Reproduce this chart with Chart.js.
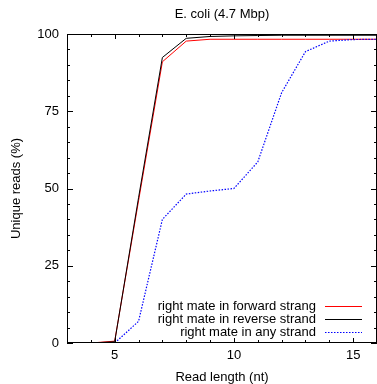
<!DOCTYPE html>
<html>
<head>
<meta charset="utf-8">
<script src="https://cdn.jsdelivr.net/npm/chart.js@4/dist/chart.umd.min.js"></script>
<style>
html,body{margin:0;padding:0;background:#fff;}
#wrap{width:377px;height:384px;}
</style>
</head>
<body>
<div id="wrap"><canvas id="c" width="377" height="384"></canvas></div>
<script>
// ---- data ----
const TITLE = "E. coli (4.7 Mbp)";
const X_TITLE = "Read length (nt)";
const Y_TITLE = "Unique reads (%)";
const readLength = [3, 4, 5, 6, 7, 8, 9, 10, 11, 12, 13, 14, 15, 16];
const forwardStrand = [0, 0, 0.6, 46, 91, 97.7, 98.3, 98.3, 98.3, 98.3, 98.3, 98.3, 98.3, 98.3];
const reverseStrand = [0, 0, 0.4, 47, 92.4, 98.6, 99.2, 99.4, 99.5, 99.6, 99.6, 99.6, 99.6, 99.6];
const anyStrand = [0, 0, 0, 7, 40, 48.2, 49.2, 50, 58.6, 81, 94.3, 97.7, 98.2, 98.3];
const seriesLabels = ["right mate in forward strang", "right mate in reverse strand", "right mate in any strand"];
const X_MIN = 3, X_MAX = 16, Y_MIN = 0, Y_MAX = 100;

const FONT = '"Liberation Sans", Arial, Helvetica, sans-serif';
Chart.defaults.font.family = FONT;
Chart.defaults.font.size = 13;
Chart.defaults.color = '#000';

const pts = (ys) => readLength.map((x, i) => ({x: x, y: ys[i]}));

// inside tick marks + frame (gnuplot style)
const framePlugin = {
  id: 'frame',
  afterDraw(chart) {
    const ctx = chart.ctx;
    const a = chart.chartArea;
    const xs = chart.scales.x, ys = chart.scales.y;
    ctx.save();
    ctx.strokeStyle = '#000';
    ctx.lineWidth = 1;
    ctx.beginPath();
    xs.ticks.forEach(t => {
      const px = Math.round(xs.getPixelForValue(t.value)) + 0.5;
      const len = (t.value % 5 === 0) ? 5 : 3;
      ctx.moveTo(px, a.bottom); ctx.lineTo(px, a.bottom - len);
      ctx.moveTo(px, a.top); ctx.lineTo(px, a.top + len);
    });
    ys.ticks.forEach(t => {
      const py = Math.round(ys.getPixelForValue(t.value)) + 0.5;
      const len = (t.value % 25 === 0) ? 6 : 3;
      ctx.moveTo(a.left, py); ctx.lineTo(a.left + len, py);
      ctx.moveTo(a.right, py); ctx.lineTo(a.right - len, py);
    });
    ctx.stroke();
    ctx.strokeRect(Math.round(a.left) + 0.5, Math.round(a.top) + 0.5,
                   Math.round(a.right - a.left) - 1, Math.round(a.bottom - a.top) - 1);
    ctx.restore();
  }
};

// gnuplot-style legend inside the plot, text right-aligned, sample on the right
const legendPlugin = {
  id: 'gpLegend',
  afterDraw(chart) {
    const ctx = chart.ctx;
    const a = chart.chartArea;
    const ds = chart.data.datasets;
    const n = ds.length;
    ctx.save();
    ctx.font = '13px ' + FONT;
    ctx.textAlign = 'right';
    ctx.textBaseline = 'middle';
    ds.forEach((d, i) => {
      const y = Math.round(a.bottom - 10.7 - 13 * (n - 1 - i)) + 0.5;
      ctx.fillStyle = '#000';
      ctx.fillText(d.label, a.right - 61, y);
      ctx.strokeStyle = d.borderColor;
      ctx.lineWidth = d.borderWidth;
      ctx.setLineDash(d.borderDash || []);
      ctx.beginPath();
      ctx.moveTo(a.right - 52, y);
      ctx.lineTo(a.right - 15, y);
      ctx.stroke();
    });
    ctx.restore();
  }
};

new Chart(document.getElementById('c'), {
  type: 'line',
  data: {
    datasets: [
      {label: seriesLabels[0], data: pts(forwardStrand), borderColor: '#ff0000', borderWidth: 1, order: 3},
      {label: seriesLabels[1], data: pts(reverseStrand), borderColor: '#000000', borderWidth: 1, order: 2},
      {label: seriesLabels[2], data: pts(anyStrand), borderColor: '#0000ff', borderWidth: 1.2, borderDash: [1.5, 1.5], order: 1}
    ]
  },
  options: {
    responsive: false,
    animation: false,
    devicePixelRatio: 1,
    layout: {padding: {left: 0, right: 0, top: 0, bottom: 0}},
    elements: {point: {radius: 0, hoverRadius: 0}, line: {tension: 0, fill: false}},
    plugins: {
      legend: {display: false},
      tooltip: {enabled: false},
      title: {
        display: true,
        text: TITLE,
        fullSize: false,
        color: '#000',
        font: {size: 13, weight: 'normal', lineHeight: 1},
        padding: {top: 7.5, bottom: 13.5}
      }
    },
    scales: {
      x: {
        type: 'linear',
        min: X_MIN, max: X_MAX,
        afterFit: (s) => { s.height = 41; s.paddingLeft = 0; s.paddingRight = 0; },
        grid: {display: false, drawTicks: false},
        border: {display: false},
        ticks: {
          stepSize: 1, autoSkip: false, maxRotation: 0, padding: 5,
          color: '#000', font: {size: 13},
          callback: (v) => (v % 5 === 0 ? String(v) : '')
        },
        title: {display: true, text: X_TITLE, color: '#000', font: {size: 13, lineHeight: 1}, padding: {top: 0, bottom: 0}}
      },
      y: {
        type: 'linear',
        min: Y_MIN, max: Y_MAX,
        afterFit: (s) => { s.width = 67; s.paddingTop = 0; s.paddingBottom = 0; },
        grid: {display: false, drawTicks: false},
        border: {display: false},
        ticks: {
          stepSize: 5, autoSkip: false, padding: 8,
          color: '#000', font: {size: 13},
          callback: (v) => (v % 25 === 0 ? String(v) : '')
        },
        title: {display: true, text: Y_TITLE, color: '#000', font: {size: 13, lineHeight: 1}, padding: {top: 10, bottom: 0}}
      }
    }
  },
  plugins: [framePlugin, legendPlugin]
});
</script>
</body>
</html>
